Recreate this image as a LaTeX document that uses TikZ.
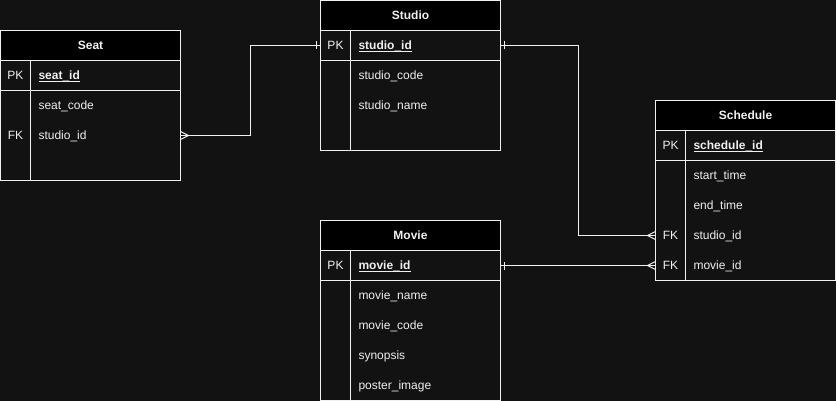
\documentclass[tikz,border=0pt]{standalone}
\usepackage{fontspec}
\setmainfont{Liberation Sans}
\definecolor{darkcanvas}{RGB}{18, 18, 18}
\definecolor{lightink}{RGB}{240, 240, 240}
\usetikzlibrary{
  arrows.meta,
  positioning,
}
% crow's foot (many) and bar (one) ends
\pgfdeclarearrow{
  name = ERmany,
  setup code = {
    \pgfarrowssettipend{0pt}
    \pgfarrowssetlineend{0pt}
    \pgfarrowssetbackend{-8pt}
  },
  drawing code = {
    \pgfpathmoveto{\pgfpoint{0pt}{4pt}}
    \pgfpathlineto{\pgfpoint{-8pt}{0pt}}
    \pgfpathlineto{\pgfpoint{0pt}{-4pt}}
    \pgfusepathqstroke
  }
}
\pgfdeclarearrow{
  name = ERone,
  setup code = {
    \pgfarrowssettipend{0pt}
    \pgfarrowssetlineend{0pt}
    \pgfarrowssetbackend{-5pt}
  },
  drawing code = {
    \pgfpathmoveto{\pgfpoint{-4pt}{4pt}}
    \pgfpathlineto{\pgfpoint{-4pt}{-4pt}}
    \pgfusepathqstroke
  }
}
\newcommand{\pkfield}[1]{\underline{\smash{\textbf{#1}}}}

\begin{document}
\begin{tikzpicture}[x=1pt, y=-1pt, node distance=0pt,
    font=\fontsize{12pt}{14pt}\selectfont,
    tablehead/.style={draw=lightink, line width=1pt, fill=black, text=lightink, font=\fontsize{12pt}{14pt}\selectfont\bfseries, minimum width=180pt, minimum height=30pt, inner sep=0pt, outer sep=0pt, text height=11pt, text depth=3pt, anchor=north west},
    keycell/.style={minimum width=30pt, minimum height=30pt, inner sep=0pt, outer sep=0pt, text=lightink, text height=11pt, text depth=3pt, anchor=north west},
    fieldcell/.style={minimum height=30pt, text width=134pt, inner xsep=8pt, inner ysep=0pt, outer sep=0pt, align=left, text=lightink, text height=11pt, text depth=3pt},
    tableline/.style={draw=lightink, line width=1pt},
    relation/.style={draw=lightink, line width=1pt},
  ]

    \useasboundingbox (0,0) rectangle (836,401);
    \fill[darkcanvas] (0,0) rectangle (836,401);

    % Seat
    \node[tablehead] (seat) at (0.5,30.5) {Seat};
    \node[keycell] (seat-pk-k) at (seat.south west) {PK};
    \node[fieldcell, right=of seat-pk-k] (seat-pk) {\pkfield{seat\_id}};
    \node[fieldcell, below=of seat-pk] (seat-code) {seat\_code};
    \node[fieldcell, below=of seat-code] (seat-studio) {studio\_id};
    \node[fieldcell, below=of seat-studio] (seat-end) {};
    \node[keycell, left=of seat-studio] (seat-studio-k) {FK};
    \draw[tableline] (seat-pk-k.north west) rectangle (seat-end.south east);
    \draw[tableline] (seat-pk-k.south west) -- (seat-pk.south east);
    \draw[tableline] (seat-pk-k.north east) -- (seat-end.south west);

    % Studio
    \node[tablehead] (studio) at (320.5,0.5) {Studio};
    \node[keycell] (studio-pk-k) at (studio.south west) {PK};
    \node[fieldcell, right=of studio-pk-k] (studio-pk) {\pkfield{studio\_id}};
    \node[fieldcell, below=of studio-pk] (studio-code) {studio\_code};
    \node[fieldcell, below=of studio-code] (studio-name) {studio\_name};
    \node[fieldcell, below=of studio-name] (studio-end) {};
    \draw[tableline] (studio-pk-k.north west) rectangle (studio-end.south east);
    \draw[tableline] (studio-pk-k.south west) -- (studio-pk.south east);
    \draw[tableline] (studio-pk-k.north east) -- (studio-end.south west);

    % Schedule
    \node[tablehead] (sched) at (655.5,100.5) {Schedule};
    \node[keycell] (sched-pk-k) at (sched.south west) {PK};
    \node[fieldcell, right=of sched-pk-k] (sched-pk) {\pkfield{schedule\_id}};
    \node[fieldcell, below=of sched-pk] (sched-start) {start\_time};
    \node[fieldcell, below=of sched-start] (sched-endt) {end\_time};
    \node[fieldcell, below=of sched-endt] (sched-studio) {studio\_id};
    \node[fieldcell, below=of sched-studio] (sched-movie) {movie\_id};
    \node[keycell, left=of sched-studio] (sched-studio-k) {FK};
    \node[keycell, left=of sched-movie] (sched-movie-k) {FK};
    \draw[tableline] (sched-pk-k.north west) rectangle (sched-movie.south east);
    \draw[tableline] (sched-pk-k.south west) -- (sched-pk.south east);
    \draw[tableline] (sched-pk-k.north east) -- (sched-movie.south west);

    % Movie
    \node[tablehead] (movie) at (320.5,220.5) {Movie};
    \node[keycell] (movie-pk-k) at (movie.south west) {PK};
    \node[fieldcell, right=of movie-pk-k] (movie-pk) {\pkfield{movie\_id}};
    \node[fieldcell, below=of movie-pk] (movie-name) {movie\_name};
    \node[fieldcell, below=of movie-name] (movie-code) {movie\_code};
    \node[fieldcell, below=of movie-code] (movie-synopsis) {synopsis};
    \node[fieldcell, below=of movie-synopsis] (movie-poster) {poster\_image};
    \draw[tableline] (movie-pk-k.north west) rectangle (movie-poster.south east);
    \draw[tableline] (movie-pk-k.south west) -- (movie-pk.south east);
    \draw[tableline] (movie-pk-k.north east) -- (movie-poster.south west);

    % relations
    \draw[relation, {ERmany}-{ERone}] (seat-studio.east) -- ++(70,0) |- (studio-pk-k.west);
    \draw[relation, {ERone}-{ERmany}] (studio-pk.east) -- ++(78,0) |- (sched-studio-k.west);
    \draw[relation, {ERone}-{ERmany}] (movie-pk.east) -- (sched-movie-k.west);

\end{tikzpicture}
\end{document}
